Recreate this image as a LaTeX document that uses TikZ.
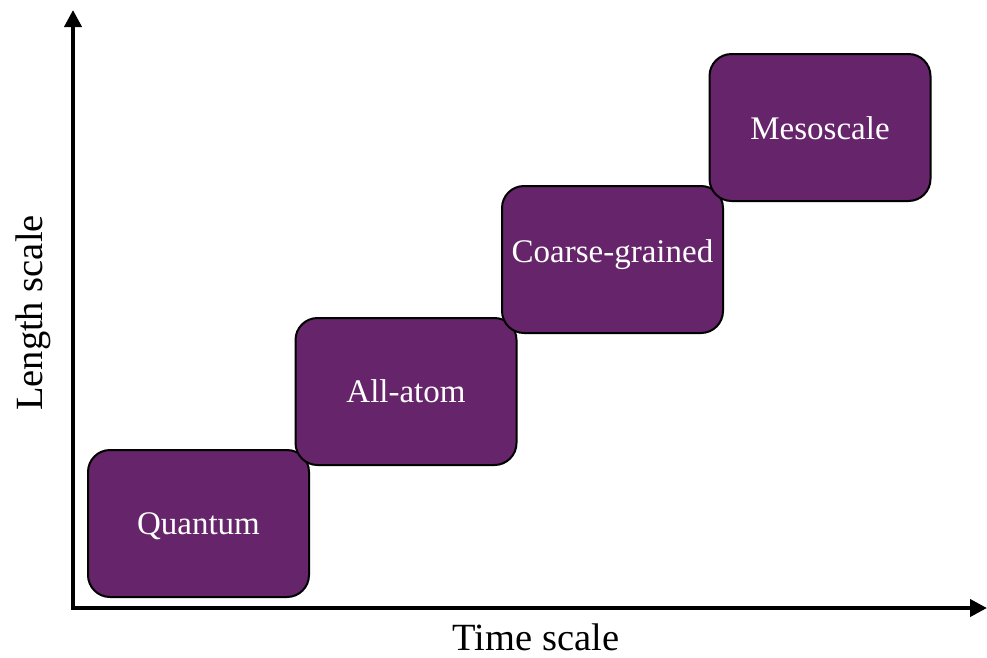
\documentclass[tikz,border=0pt]{standalone}
\usepackage{fontspec}
\setmainfont{Liberation Serif}
\usetikzlibrary{arrows.meta}
\definecolor{boxpurple}{RGB}{102,36,106}
\tikzset{
  scalebox/.style={draw=black, line width=2pt, fill=boxpurple, rounded corners=22pt,
    minimum width=221pt, minimum height=147pt, inner sep=0pt, text=white,
    font=\fontsize{33}{37}\selectfont, text height=24pt, text depth=3pt},
  axis/.style={line width=4pt, -{Triangle[width=17pt,length=17pt]}},
  axislabel/.style={font=\fontsize{38.5}{42}\selectfont, inner sep=0pt}
}
\begin{document}
\begin{tikzpicture}[x=1pt,y=-1pt]
\useasboundingbox (0,0) rectangle (987,657);
\coordinate (ytip) at (73,10);
\coordinate (xtip) at (987,608);
\draw[axis] (73,610) -- (ytip);
\draw[axis] (71,608) -- (xtip);
\node[scalebox] (quantum) at (198.5,523.5) {Quantum};
\node[scalebox] (allatom) at (406,391.5) {All-atom};
\node[scalebox, text height=12pt, text depth=7pt] (coarse) at (612.5,259.5) {Coarse-grained};
\node[scalebox, text height=26pt, text depth=3pt] (meso) at (820,127.5) {Mesoscale};
\node[axislabel, anchor=base, text depth=0pt] (xlabel) at (536,650) {Time scale};
\node[axislabel, rotate=90] (ylabel) at (33,313) {Length scale};
\end{tikzpicture}
\end{document}
